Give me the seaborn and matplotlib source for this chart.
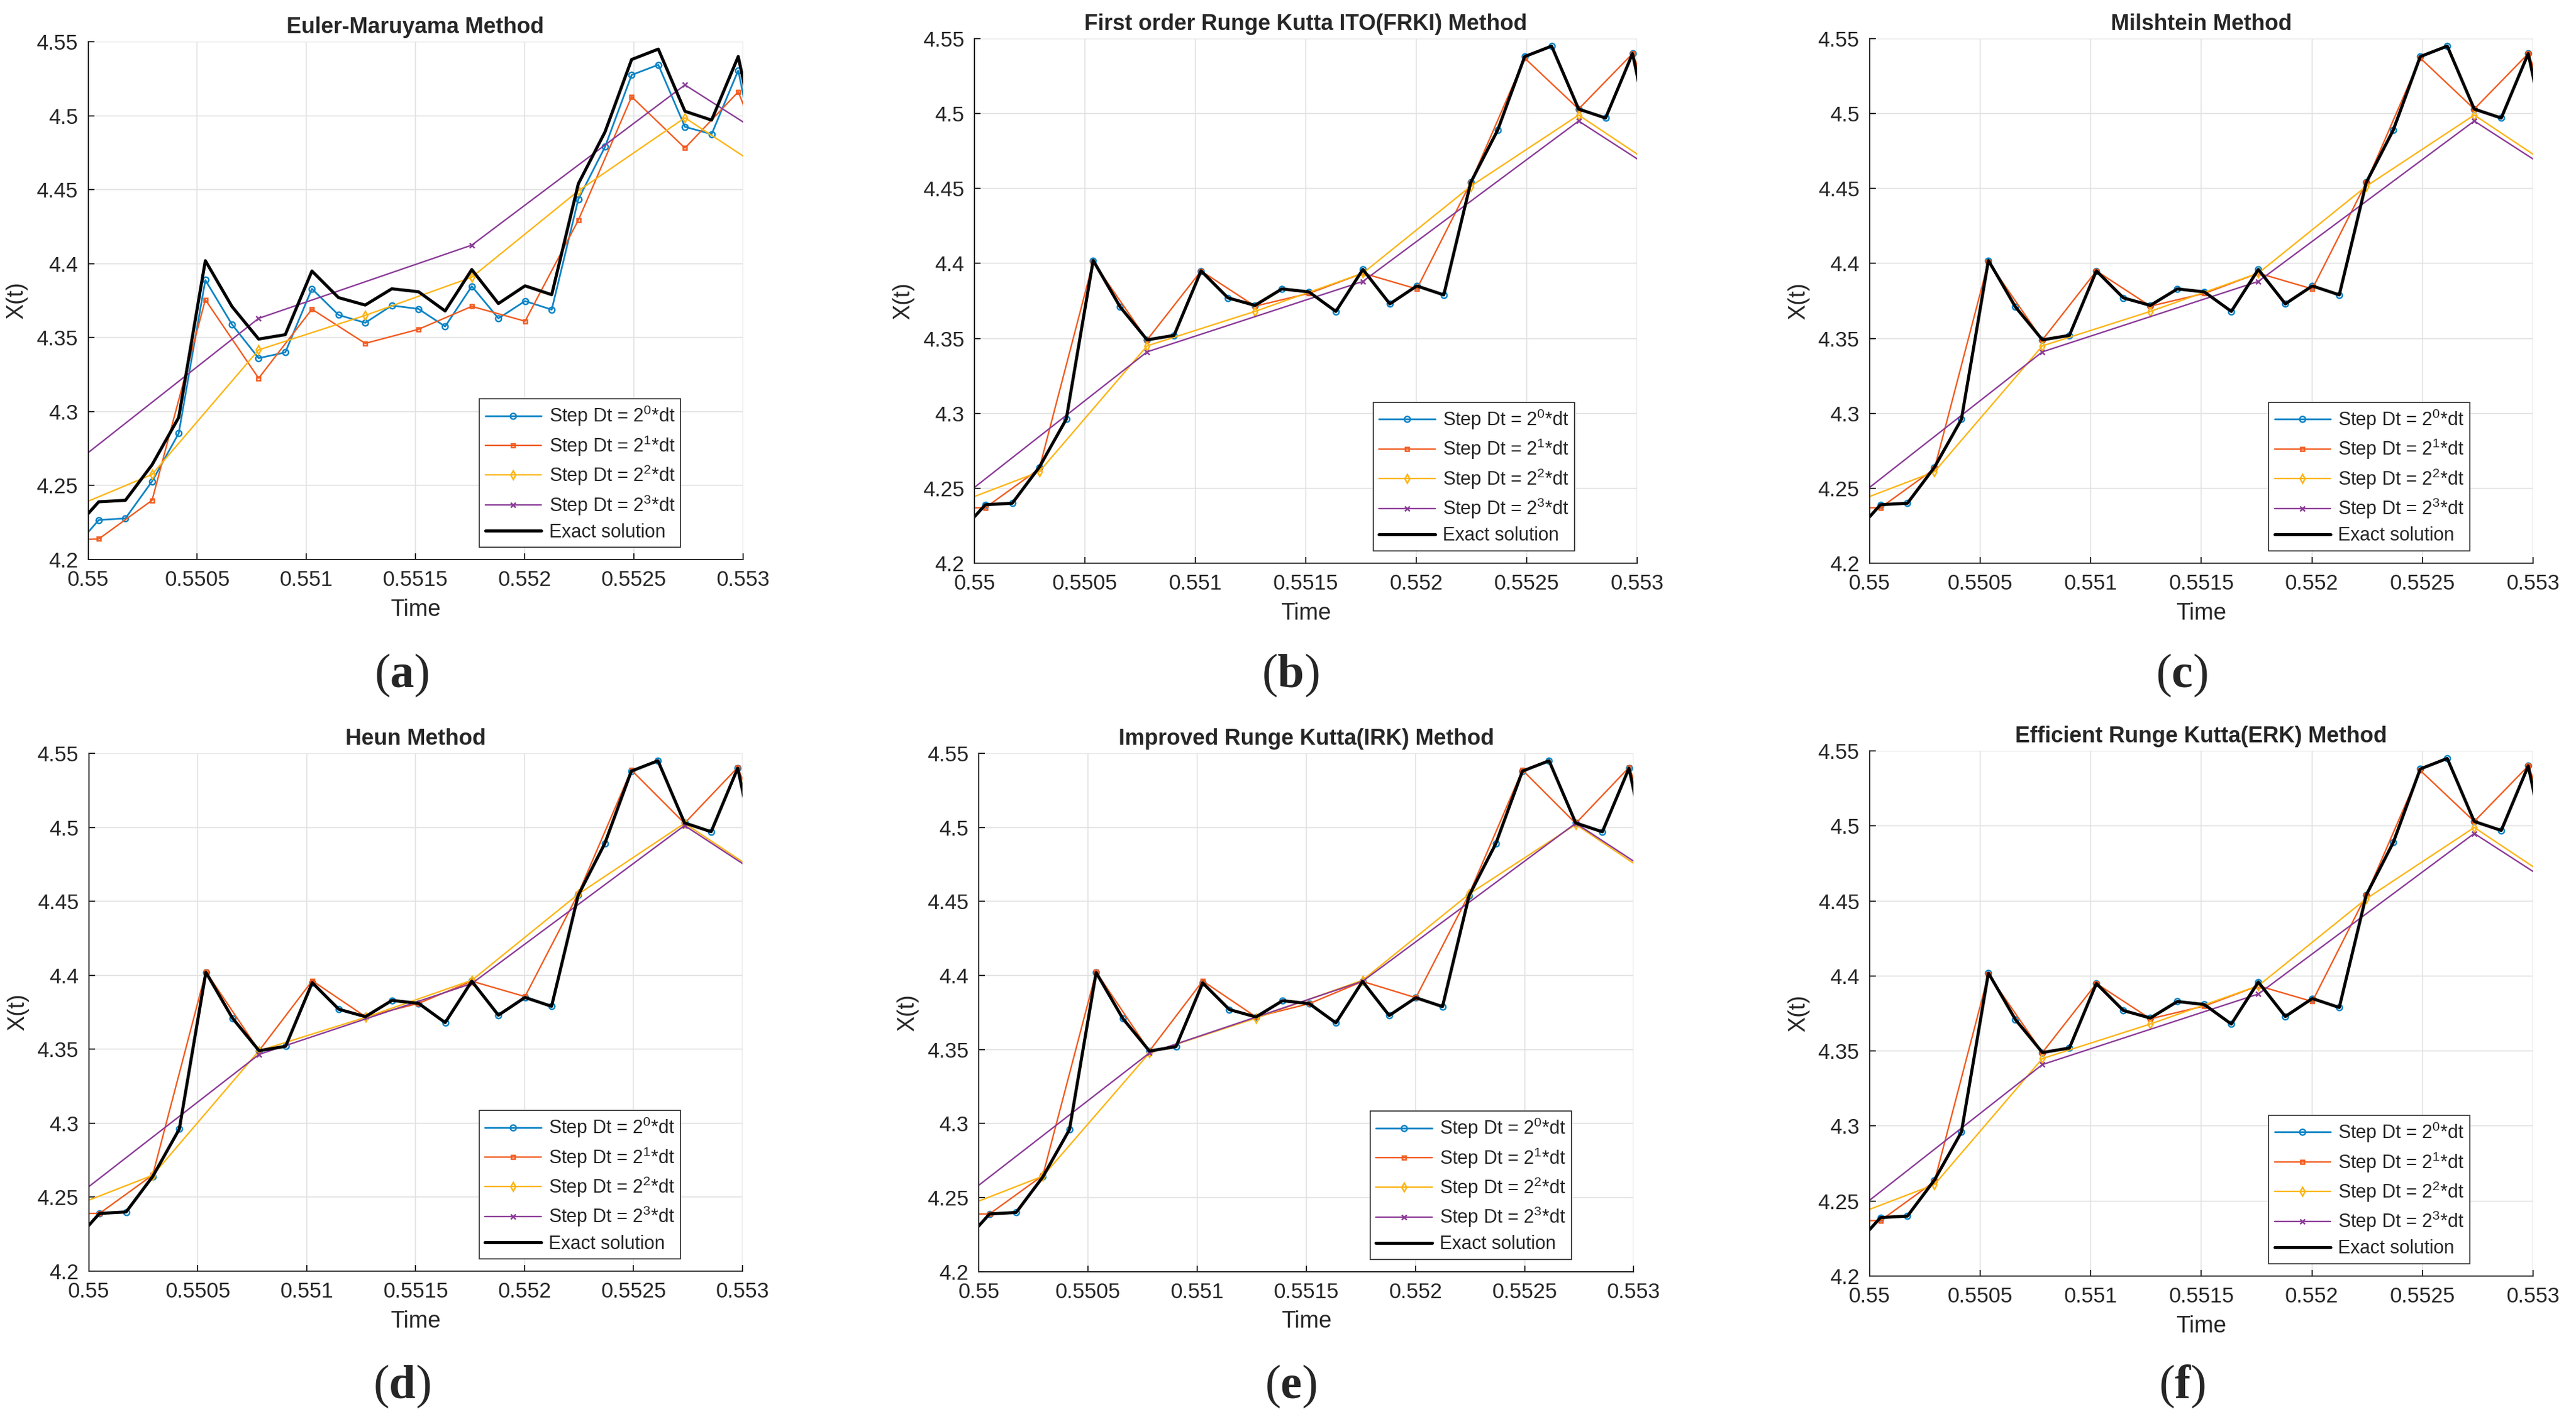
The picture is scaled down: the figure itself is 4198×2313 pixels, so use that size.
import numpy as np
import matplotlib
matplotlib.use("Agg")
import matplotlib.pyplot as plt
import seaborn as sns

# time grids: fine step dt and coarser steps 2dt, 4dt, 8dt
dt = 2.0 ** -13
t_1 = dt * np.arange(4505, 4532)
t_2 = dt * np.arange(4504, 4533, 2)
t_4 = dt * np.arange(4504, 4533, 4)
t_8 = dt * np.arange(4504, 4537, 8)

# exact solution on the fine grid
exact = [4.219, 4.239, 4.240, 4.264, 4.296, 4.402, 4.371, 4.349, 4.352,
         4.395, 4.377, 4.372, 4.383, 4.381, 4.368, 4.396, 4.373, 4.385,
         4.379, 4.454, 4.489, 4.538, 4.545, 4.503, 4.497, 4.540, 4.455]

# Euler-Maruyama
em_1 = [4.206, 4.2267, 4.2278, 4.2528, 4.2853, 4.3889, 4.3589, 4.3361, 4.340,
        4.383, 4.3653, 4.360, 4.3717, 4.3694, 4.3575, 4.3847, 4.363, 4.3747,
        4.3689, 4.4436, 4.4789, 4.5275, 4.5344, 4.4925, 4.4875, 4.5306, 4.442]
em_2 = [4.213, 4.2139, 4.240, 4.3756, 4.3225, 4.3692, 4.3461, 4.3556,
        4.3711, 4.3611, 4.4294, 4.5128, 4.4781, 4.5161, 4.427]
em_4 = [4.2273, 4.2575, 4.3417, 4.365, 4.3908, 4.4492, 4.4986, 4.4512]
em_8 = [4.2495, 4.363, 4.4125, 4.5208, 4.429]

# First order Runge Kutta ITO
frki_1 = exact
frki_2 = [4.237, 4.237, 4.263, 4.401, 4.349, 4.395, 4.3715, 4.380,
          4.3935, 4.383, 4.454, 4.537, 4.503, 4.540, 4.449]
frki_4 = [4.2335, 4.261, 4.345, 4.368, 4.3935, 4.4515, 4.499, 4.451]
frki_8 = [4.228, 4.341, 4.388, 4.495, 4.402]

# Milshtein
mil_1 = exact
mil_2 = [4.237, 4.237, 4.263, 4.401, 4.349, 4.395, 4.3715, 4.380,
         4.3935, 4.383, 4.454, 4.537, 4.503, 4.540, 4.449]
mil_4 = [4.2335, 4.261, 4.345, 4.368, 4.3935, 4.4515, 4.499, 4.451]
mil_8 = [4.228, 4.341, 4.388, 4.495, 4.402]

# Heun
heun_1 = exact
heun_2 = [4.239, 4.239, 4.265, 4.4024, 4.349, 4.3963, 4.372, 4.381,
          4.396, 4.3856, 4.455, 4.5387, 4.5027, 4.5405, 4.451]
heun_4 = [4.2368, 4.2648, 4.349, 4.3715, 4.3966, 4.4548, 4.5027, 4.455]
heun_8 = [4.2348, 4.3465, 4.3944, 4.5012, 4.407]

# Improved Runge Kutta
irk_1 = exact
irk_2 = [4.239, 4.239, 4.265, 4.4024, 4.349, 4.3963, 4.372, 4.381,
         4.396, 4.385, 4.455, 4.5387, 4.5027, 4.5405, 4.451]
irk_4 = [4.2365, 4.2645, 4.3477, 4.3712, 4.3968, 4.455, 4.502, 4.4537]
irk_8 = [4.2361, 4.3477, 4.3961, 4.5028, 4.4086]

# Efficient Runge Kutta
erk_1 = exact
erk_2 = [4.237, 4.237, 4.263, 4.401, 4.349, 4.395, 4.3715, 4.380,
         4.3935, 4.383, 4.454, 4.537, 4.503, 4.540, 4.449]
erk_4 = [4.2335, 4.261, 4.345, 4.368, 4.3935, 4.4515, 4.499, 4.451]
erk_8 = [4.228, 4.341, 4.388, 4.495, 4.402]

titles = ["Euler-Maruyama Method", "First order Runge Kutta ITO(FRKI) Method",
          "Milshtein Method", "Heun Method",
          "Improved Runge Kutta(IRK) Method", "Efficient Runge Kutta(ERK) Method"]
panel_letters = ["a", "b", "c", "d", "e", "f"]
methods = [(em_1, em_2, em_4, em_8), (frki_1, frki_2, frki_4, frki_8),
           (mil_1, mil_2, mil_4, mil_8), (heun_1, heun_2, heun_4, heun_8),
           (irk_1, irk_2, irk_4, irk_8), (erk_1, erk_2, erk_4, erk_8)]

x_ticks = [0.55, 0.5505, 0.551, 0.5515, 0.552, 0.5525, 0.553]
x_ticklabels = ["0.55", "0.5505", "0.551", "0.5515", "0.552", "0.5525", "0.553"]
y_ticks = [4.2, 4.25, 4.3, 4.35, 4.4, 4.45, 4.5, 4.55]
y_ticklabels = ["4.2", "4.25", "4.3", "4.35", "4.4", "4.45", "4.5", "4.55"]
series_labels = [r"Step Dt = $2^{0}$*dt", r"Step Dt = $2^{1}$*dt",
                 r"Step Dt = $2^{2}$*dt", r"Step Dt = $2^{3}$*dt"]

sns.set_theme(style="white")
plt.rcParams["font.family"] = ["Liberation Sans", "DejaVu Sans"]
plt.rcParams["mathtext.fontset"] = "custom"
plt.rcParams["mathtext.rm"] = "Liberation Sans"
plt.rcParams["mathtext.bf"] = "Liberation Serif:bold"
plt.rcParams["mathtext.default"] = "regular"

colors = ["#0B84C6", "#F25A1E", "#FDB515", "#8B3A98"]
markers = ["o", "s", "d", "x"]
msizes = [3.4, 2.5, 3.4, 2.8]
widths = [1.0, 0.85, 0.85, 0.85]
grids = [t_1, t_2, t_4, t_8]

rects = [[0.0342, 0.6057, 0.2542, 0.3649],
         [0.3783, 0.6031, 0.2573, 0.3697],
         [0.7258, 0.6031, 0.2575, 0.3697],
         [0.0345, 0.1042, 0.2537, 0.3649],
         [0.3800, 0.1038, 0.2542, 0.3653],
         [0.7258, 0.1007, 0.2575, 0.3701]]
label_pos = [(0.156, 0.524), (0.501, 0.524), (0.847, 0.524),
             (0.156, 0.023), (0.501, 0.023), (0.847, 0.023)]

fig = plt.figure(figsize=(20.99, 11.565))

for i in range(6):
    ax = fig.add_axes(rects[i])
    for k in range(4):
        sns.lineplot(x=grids[k], y=methods[i][k], ax=ax, color=colors[k],
                     marker=markers[k], markersize=msizes[k],
                     markerfacecolor="none", markeredgecolor=colors[k],
                     markeredgewidth=0.9, linewidth=widths[k],
                     label=series_labels[k], sort=False, estimator=None)
    sns.lineplot(x=t_1, y=exact, ax=ax, color="black", linewidth=1.8,
                 label="Exact solution", sort=False, estimator=None)

    ax.set_xlim(0.55, 0.553)
    ax.set_ylim(4.2, 4.55)
    ax.set_xticks(x_ticks, x_ticklabels)
    ax.set_yticks(y_ticks, y_ticklabels)
    ax.grid(True, color="#e2e2e2", linewidth=0.6)
    ax.set_axisbelow(True)
    ax.spines[["top", "right"]].set_visible(False)
    for s in ["left", "bottom"]:
        ax.spines[s].set_color("#262626")
        ax.spines[s].set_linewidth(0.7)
    ax.tick_params(direction="in", length=3.5, width=0.7, colors="#262626",
                   labelsize=12.5, pad=6, top=False, right=False,
                   left=True, bottom=True)
    ax.set_xlabel("Time", fontsize=13.5, color="#262626", labelpad=5)
    ax.set_ylabel("X(t)", fontsize=13.5, color="#262626", labelpad=5)
    ax.set_title(titles[i], fontsize=13, fontweight="bold", pad=5)

    leg = ax.legend(loc="lower right", bbox_to_anchor=(0.905, 0.024),
                    fontsize=11, frameon=True, fancybox=False,
                    edgecolor="#262626", framealpha=1, handlelength=3.0,
                    labelspacing=0.33, borderpad=0.3, handletextpad=0.4,
                    borderaxespad=0, numpoints=1)
    leg.get_frame().set_linewidth(0.6)

    fig.text(label_pos[i][0], label_pos[i][1],
             "($\\mathbf{" + panel_letters[i] + "}$)",
             family="Liberation Serif", fontsize=28, ha="center", va="center")

fig.savefig("out.png", dpi=200)
